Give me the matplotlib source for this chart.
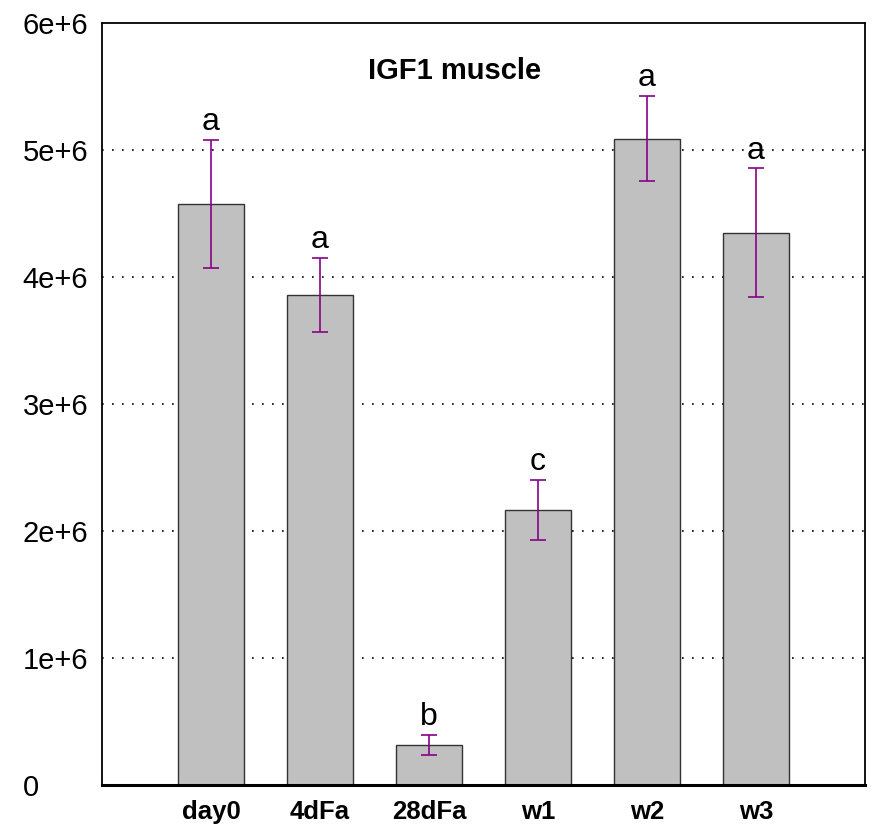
import matplotlib
matplotlib.use("Agg")
import matplotlib.pyplot as plt

# data
groups = ["day0", "4dFa", "28dFa", "w1", "w2", "w3"]
means = [4.575e6, 3.86e6, 0.315e6, 2.165e6, 5.09e6, 4.35e6]
errors = [0.505e6, 0.29e6, 0.08e6, 0.235e6, 0.335e6, 0.505e6]
letters = ["a", "a", "b", "c", "a", "a"]
yticks = [0, 1e6, 2e6, 3e6, 4e6, 5e6, 6e6]
ytick_labels = ["0", "1e+6", "2e+6", "3e+6", "4e+6", "5e+6", "6e+6"]

plt.rcParams['font.family'] = ['Liberation Sans', 'DejaVu Sans']

fig = plt.figure(figsize=(8.72, 8.3), dpi=100)
ax = fig.add_axes([102 / 872, 45 / 830, 763 / 872, 762 / 830])

xs = list(range(1, len(groups) + 1))

# dotted grid lines at the inner ticks
for y in yticks[1:-1]:
    ax.axhline(y, color="black", lw=1.2, ls=(0, (1, 5)), zorder=1)

ax.bar(xs, means, width=0.61, color="#c0c0c0", edgecolor="#333333",
       linewidth=1.0, zorder=2)
ax.errorbar(xs, means, yerr=errors, fmt="none", ecolor="#880088",
            elinewidth=1.2, capsize=6, capthick=1.2, zorder=3)

for x, m, e, t in zip(xs, means, errors, letters):
    ax.annotate(t, (x, m + e), xytext=(0, 7), textcoords="offset points",
                ha="center", va="baseline", fontsize=23, zorder=4)

ax.text(0.4626, 0.9375, "IGF1 muscle", transform=ax.transAxes,
        ha="center", va="center", fontsize=21, fontweight="bold")

ax.set_xlim(0, 7)
ax.set_ylim(0, 6e6)
ax.set_xticks(xs)
ax.set_xticklabels(groups, fontsize=18.5, fontweight="bold")
ax.set_yticks(yticks)
ax.set_yticklabels(ytick_labels, fontsize=21)
for lab in ax.get_yticklabels():
    lab.set_horizontalalignment("left")
ax.tick_params(axis="y", length=0, pad=57)
ax.tick_params(axis="x", length=0, pad=11)

for side in ["left", "right", "top"]:
    ax.spines[side].set_linewidth(1.3)
ax.spines["bottom"].set_linewidth(2.2)

fig.savefig("out.png", dpi=100)
